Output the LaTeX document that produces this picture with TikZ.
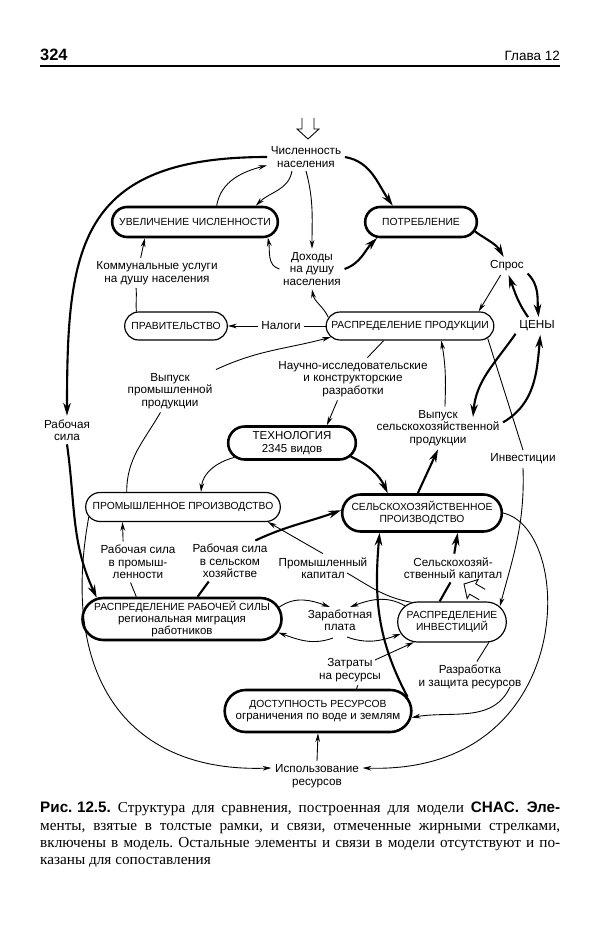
\documentclass[tikz,border=0pt]{standalone}
\usepackage{fontspec}
\setmainfont{Liberation Serif}
\setsansfont{Liberation Sans}
\usetikzlibrary{arrows.meta,shapes.misc,calc}

\newcommand{\strochn}{\fontsize{9.8}{10.6}\selectfont}

\tikzset{
  blok/.style={draw, rounded rectangle, line width=1pt, inner sep=1pt, align=center,
    font=\sffamily\fontsize{8.8}{10.5}\selectfont},
  blokzh/.style={blok, line width=2.2pt},
  metka/.style={align=center, inner sep=3pt, font=\sffamily\fontsize{10}{10.6}\selectfont},
  liniya/.style={line width=0.75pt},
  zhirliniya/.style={line width=1.8pt},
  tonk/.style={liniya, -{Stealth[length=7.5pt,width=4pt]}},
  zhir/.style={zhirliniya, -{Stealth[length=11pt,width=6.5pt]}},
  vhod/.pic={\draw[liniya] (-6,21) -- (-6,10) -- (-11,10) -- (0,0) -- (11,10) -- (6,10) -- (6,21);}
}

\begin{document}
\begin{tikzpicture}[x=0.03cm, y=0.03cm]
    \useasboundingbox (0,0) rectangle (600,-932);

    %шапка страницы
    \node[anchor=base west, inner sep=0, font=\sffamily\bfseries\fontsize{14}{16}\selectfont] (nomer) at (40,-61) {324};
    \node[anchor=base east, inner sep=0, font=\sffamily\fontsize{11.5}{13}\selectfont] (glava) at (560,-61) {Глава 12};
    \draw[line width=1pt] (40,-66) -- (560,-66);

    %узлы
    \node[metka] (chisl) at (306,-157) {Численность\\населения};
    \node[blokzh, minimum width=5.04cm, minimum height=0.9cm] (uvel) at (195,-222) {УВЕЛИЧЕНИЕ ЧИСЛЕННОСТИ};
    \node[blokzh, minimum width=3.42cm, minimum height=0.9cm] (potr) at (421,-222) {ПОТРЕБЛЕНИЕ};
    \node[metka] (dohod) at (312,-269) {Доходы\\на душу\\населения};
    \node[metka] (komm) at (157,-273) {Коммунальные услуги\\на душу населения};
    \node[metka] (spros) at (507,-266) {Спрос};
    \node[blok, minimum width=3.15cm, minimum height=0.84cm] (prav) at (176,-326) {ПРАВИТЕЛЬСТВО};
    \node[metka] (nalogi) at (281,-326) {Налоги};
    \node[blok, minimum width=5.1cm, minimum height=0.84cm] (raspr) at (410,-326) {РАСПРЕДЕЛЕНИЕ ПРОДУКЦИИ};
    \node[metka] (ceny) at (537,-326) {ЦЕНЫ};
    \node[metka] (nir) at (353,-379) {Научно-исследовательские\\и конструкторские\\разработки};
    \node[metka] (vypprom) at (170,-391) {Выпуск\\промышленной\\продукции};
    \node[metka] (rabsila) at (67,-430) {Рабочая\\сила};
    \node[blokzh, minimum width=3.9cm, minimum height=0.99cm] (tehn) at (292,-443) {\fontsize{9.8}{11}\selectfont ТЕХНОЛОГИЯ\\\strochn 2345 видов};
    \node[metka] (vypsel) at (438,-428) {Выпуск\\сельскохозяйственной\\продукции};
    \node[metka] (invest) at (523,-459) {Инвестиции};
    \node[blok, minimum width=5.91cm, minimum height=0.87cm] (prom) at (183,-507) {ПРОМЫШЛЕННОЕ ПРОИЗВОДСТВО};
    \node[blokzh, minimum width=4.86cm, minimum height=1.11cm] (selh) at (422,-513) {СЕЛЬСКОХОЗЯЙСТВЕННОЕ\\ПРОИЗВОДСТВО};
    \node[metka] (rsprom) at (138,-562) {Рабочая сила\\в промыш-\\ленности};
    \node[metka] (rssel) at (230,-561) {Рабочая сила\\в сельском\\хозяйстве};
    \node[metka] (promkap) at (323,-568) {Промышленный\\капитал};
    \node[metka] (selkap) at (453,-568) {Сельскохозяй-\\ственный капитал};
    \node[blokzh, minimum width=5.79cm, minimum height=1.26cm] (rrs) at (182,-619) {РАСПРЕДЕЛЕНИЕ РАБОЧЕЙ СИЛЫ\\\strochn региональная миграция\\\strochn работников};
    \node[metka] (zarpl) at (340,-620) {Заработная\\плата};
    \node[blok, minimum width=3.33cm, minimum height=1.2cm] (rinv) at (452,-622) {РАСПРЕДЕЛЕНИЕ\\ИНВЕСТИЦИЙ};
    \node[metka] (zatr) at (350,-670) {Затраты\\на ресурсы};
    \node[metka] (razr) at (470,-677) {Разработка\\и защита ресурсов};
    \node[blokzh, minimum width=5.67cm, minimum height=1.26cm] (dost) at (318,-711) {ДОСТУПНОСТЬ РЕСУРСОВ\\\strochn ограничения по воде и землям};
    \node[metka] (ispol) at (317,-776) {Использование\\ресурсов};

    %входные стрелки
    \pic at (308,-139) {vhod};
    \pic[rotate=240] at (464,-584) {vhod};

    %верх
    \draw[zhir] (chisl.east) to[out=-10,in=125] (potr.150);
    \draw[tonk] (chisl.-135) to[out=-100,in=45] (uvel.15);
    \draw[tonk] (uvel.37) to[out=80,in=195] (chisl.-168);
    \draw[tonk] (chisl.south) to[out=-75,in=90] (dohod.north);
    \draw[zhir] (dohod.east) to[out=20,in=-135] (potr.-160);
    \draw[tonk] (dohod.west) to[out=165,in=-80] (uvel.-12);
    \draw[zhir] (potr.-10) to[out=-35,in=120] (spros.110);
    \draw[zhir] (spros.-20) to[out=-45,in=95] (ceny.80);
    \draw[zhir] (ceny.135) to[out=125,in=-70] (spros.-80);
    \draw[tonk] (spros.-125) -- (raspr.12);
    \draw[tonk] (raspr.174) to[out=115,in=-80] (dohod.south);
    \draw[liniya] (raspr.west) -- (nalogi.east);
    \draw[tonk] (nalogi.west) -- (prav.east);
    \draw[liniya] (prav.160) to[out=95,in=-85] (komm.-144);
    \draw[tonk] (komm.137) -- (uvel.-162);
    \draw[zhir] (chisl.west) .. controls +(-190,0) and +(0,167) .. (rabsila.north); %рабочая сила
    \draw[zhir] (rabsila.south) to[out=-82,in=115] (rrs.166);

    %середина
    \draw[liniya] (prom.165) to[out=90,in=-120] (vypprom.-114);
    \draw[tonk] (vypprom.25) to[out=25,in=-165] (raspr.-172);
    \draw[liniya] (raspr.-151) -- (nir.56);
    \draw[tonk] (nir.-126) -- (tehn.27);
    \draw[tonk] (tehn.-166) to[out=-165,in=85] (prom.40);
    \draw[zhir] (tehn.-13) to[out=-25,in=115] (selh.150);
    \draw[zhir] (selh.102) -- (vypsel.south);
    \draw[tonk] (vypsel.72) to[out=88,in=-80] (raspr.-25);
    \draw[zhir] (vypsel.5) to[out=30,in=-95] (ceny.-70);
    \draw[zhir] (ceny.-160) to[out=-125,in=85] ($(vypsel.center)+(35,11)$);
    \draw[liniya] (raspr.-9) -- (invest.north);
    \draw[tonk] (invest.south) to[out=-88,in=75] (rinv.18);

    %рабочая сила и капитал
    \draw[zhir] (rssel.39) to[out=25,in=-160] (selh.178);
    \draw[zhirliniya] (rrs.55) -- (rssel.-136);
    \draw[liniya] (rrs.154) -- (rsprom.-110);
    \draw[tonk] (rsprom.126) -- (prom.-166);
    \draw[tonk] (promkap.north) -- (prom.-10);
    \draw[liniya] (rinv.154) to[out=170,in=-30] ($(promkap.center)+(24,-5)$);
    \draw[zhirliniya] (rinv.121) -- (selkap.-100);
    \draw[zhir] (selkap.85) -- (selh.-29);

    %заработная плата
    \draw[tonk] (rrs.7) to[out=35,in=160] ($(zarpl.center)+(-10,13)$);
    \draw[tonk] ($(zarpl.center)+(-7,-18)$) to[out=-160,in=-20] (rrs.-8);
    \draw[tonk] (rinv.161) to[out=150,in=20] ($(zarpl.center)+(10,13)$);
    \draw[tonk] ($(zarpl.center)+(7,-17)$) to[out=-20,in=-160] (rinv.-167);

    %ресурсы
    \draw[tonk] ($(zatr.center)+(25,10)$) -- (rinv.-152);
    \draw[liniya] (dost.30) -- (zatr.-63);
    \draw[zhir] (dost.9) to[out=118,in=-95] (selh.-155);
    \draw[liniya] (rinv.-29) -- (razr.66);
    \draw[tonk] ($(razr.center)+(40,-10)$) to[out=-115,in=10] (dost.-4);
    \draw[tonk] (ispol.north) -- (dost.south);
    \draw[tonk] (prom.-174) .. controls +(-30,-165) and +(-140,-5) .. (ispol.170);
    \draw[tonk] (selh.east) .. controls +(73,-17) and +(215,-7) .. (ispol.10);

    %подпись
    \node[anchor=north west, inner sep=0, align=left, font=\frenchspacing\fontsize{13}{14.7}\selectfont] (podpis) at (40,-802)
      {\makebox[15.6cm][s]{\textsf{\bfseries Рис.\hspace{0.3em}12.5.} Структура для сравнения, построенная для модели \textsf{\bfseries CHAC. Эле-}}\\
       \makebox[15.6cm][s]{менты, взятые в толстые рамки, и связи, отмеченные жирными стрелками,}\\
       \makebox[15.6cm][s]{включены в модель. Остальные элементы и связи в модели отсутствуют и по-}\\
       казаны для сопоставления};
\end{tikzpicture}
\end{document}
